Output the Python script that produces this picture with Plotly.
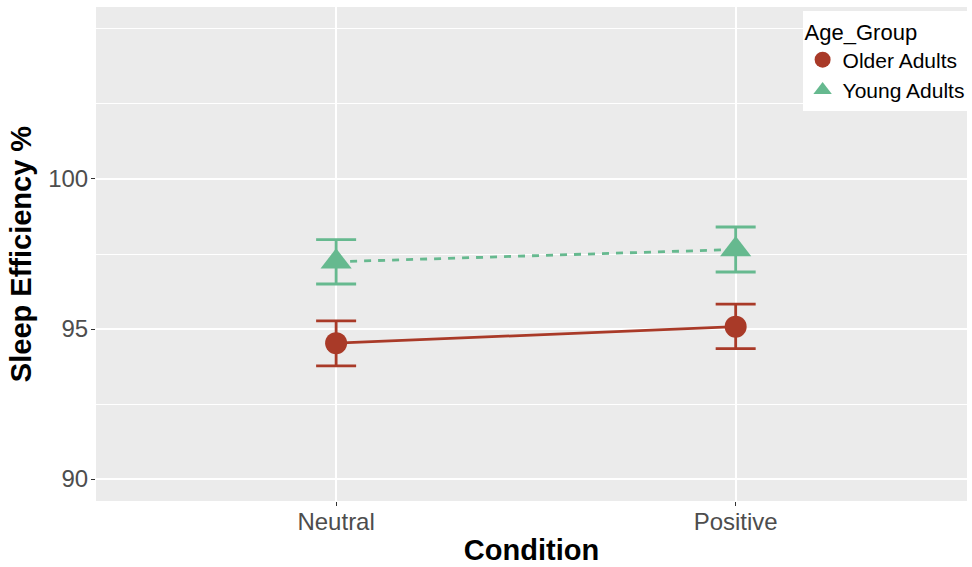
import plotly.graph_objects as go

conditions = ["Neutral", "Positive"]
older_mean = [94.53, 95.08]
older_lo = [93.77, 94.35]
older_hi = [95.27, 95.83]
young_mean = [97.24, 97.65]
young_lo = [96.50, 96.90]
young_hi = [97.98, 98.40]
y_ticks = [90, 95, 100]
y_minor = [92.5, 97.5, 102.5, 105]

red = "#A93A28"
green = "#66B98F"

fig = go.Figure()

def add_group(name, mean, lo, hi, color, symbol, size, dash):
    fig.add_trace(go.Scatter(
        x=conditions, y=mean, name=name, mode="lines", showlegend=False,
        line=dict(color=color, width=2.8, dash=dash), hoverinfo="skip",
    ))
    fig.add_trace(go.Scatter(
        x=conditions, y=mean, name=name, mode="markers",
        marker=dict(color=color, symbol=symbol, size=size, line=dict(width=0)),
        error_y=dict(type="data", symmetric=False,
                     array=[h - m for h, m in zip(hi, mean)],
                     arrayminus=[m - l for m, l in zip(mean, lo)],
                     color=color, thickness=2.8, width=20),
    ))

add_group("Older Adults", older_mean, older_lo, older_hi, red, "circle", 22, "solid")
add_group("Young Adults", young_mean, young_lo, young_hi, green, "triangle-up", 27, "7px,7px")

fig.update_layout(
    width=972, height=567,
    margin=dict(l=96, r=2, t=7, b=66),
    paper_bgcolor="white", plot_bgcolor="#EBEBEB",
    font=dict(family="Liberation Sans, Arial, sans-serif"),
    legend=dict(x=1.003, y=0.992, xanchor="right", yanchor="top",
                bgcolor="white",
                title=dict(text="Age_Group", font=dict(size=22, color="black")),
                font=dict(size=21, color="black"), itemsizing="trace",
                tracegroupgap=0),
    showlegend=True,
)
fig.update_xaxes(
    range=[-0.601, 1.579], showgrid=True, gridcolor="white", gridwidth=1.8,
    ticks="outside", ticklen=4, tickcolor="#333333", tickwidth=1,
    ticklabelstandoff=-5,
    tickfont=dict(size=24, color="#4D4D4D"), zeroline=False, automargin=False,
    title=dict(text="<b>Condition</b>", font=dict(size=29, color="black"), standoff=5),
)
fig.update_yaxes(
    range=[89.27, 105.73], tickvals=y_ticks, showgrid=True, gridcolor="white", gridwidth=1.8,
    minor=dict(tickvals=y_minor, showgrid=True, gridcolor="white", gridwidth=0.9, ticks=""),
    ticks="outside", ticklen=4, tickcolor="#333333", tickwidth=1,
    ticklabelstandoff=-2,
    tickfont=dict(size=24, color="#4D4D4D"), zeroline=False, automargin=False,
    title=dict(text="<b>Sleep Efficiency %</b>", font=dict(size=29, color="black"), standoff=8),
)

fig.write_html("out.html", config={"displayModeBar": False},
               post_script="document.body.style.margin='0px';")
